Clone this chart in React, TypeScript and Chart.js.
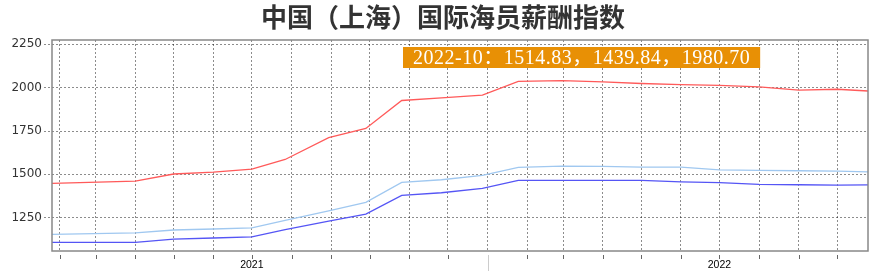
import React, { useEffect, useRef } from "react";
import { Chart, registerables } from "chart.js";

Chart.register(...registerables);

const chartTitle = "中国（上海）国际海员薪酬指数";

const dates = [
  "2021-01-26", "2021-04-01", "2021-05-01", "2021-06-01", "2021-07-01",
  "2021-07-27", "2021-08-30", "2021-09-28", "2021-10-26", "2021-11-26",
  "2021-12-28", "2022-01-25", "2022-02-28", "2022-04-01", "2022-05-01",
  "2022-06-01", "2022-07-01", "2022-08-01", "2022-09-01", "2022-10-01",
  "2022-10-25",
];

const seriesLight = [
  1154, 1162, 1179, 1185, 1191, 1235, 1290, 1339, 1454, 1469,
  1494, 1540, 1548, 1546, 1542, 1542, 1526, 1523, 1521, 1519, 1514.83,
];

const seriesDark = [
  1108, 1108, 1127, 1133, 1139, 1181, 1230, 1271, 1379, 1394,
  1419, 1465, 1465, 1465, 1465, 1457, 1452, 1442, 1440, 1438, 1439.84,
];

const seriesRed = [
  1448, 1461, 1502, 1513, 1530, 1586, 1712, 1765, 1926, 1941,
  1957, 2036, 2041, 2033, 2024, 2018, 2013, 2005, 1986, 1991, 1980.7,
];

const seriesColors = ["#a0c8f0", "#5555f5", "#ff5a5a"];

const yTicks = [1250, 1500, 1750, 2000, 2250];
const yMin = 1058;
const yMax = 2275;
const yearLabels = ["2021", "2022"];
const yearBoundary = "2022-01-01";
const tooltipPeriod = "2022-10";

const toDay = (s: string) => Date.parse(s + "T00:00:00Z") / 86400000;

function monthStarts(fromDay: number, toDayNum: number): number[] {
  const out: number[] = [];
  const d0 = new Date(fromDay * 86400000);
  let y = d0.getUTCFullYear();
  let m = d0.getUTCMonth() + 1;
  for (;;) {
    if (m > 11) { m = 0; y += 1; }
    const v = Date.UTC(y, m, 1) / 86400000;
    if (v > toDayNum) break;
    out.push(v);
    m += 1;
  }
  return out;
}

export default function App() {
  const ref = useRef<HTMLCanvasElement | null>(null);

  useEffect(() => {
    document.body.style.margin = "0";
    const canvas = ref.current;
    if (!canvas) return;

    const xDays = dates.map(toDay);
    const xMin = xDays[0];
    const xMax = xDays[xDays.length - 1];
    const mTicks = monthStarts(xMin, xMax);

    const mk = (vals: number[], color: string) => ({
      data: vals.map((v, i) => ({ x: xDays[i], y: v })),
      borderColor: color,
      backgroundColor: color,
      borderWidth: 1.3,
      pointRadius: 0,
      tension: 0,
      fill: false,
    });

    const overlay = {
      id: "overlay",
      afterDraw(chart: any) {
        const ctx = chart.ctx;
        const a = chart.chartArea;
        const xs = chart.scales.x;
        ctx.save();
        // border
        ctx.strokeStyle = "#888";
        ctx.lineWidth = 1.5;
        ctx.setLineDash([]);
        ctx.strokeRect(a.left, a.top, a.right - a.left, a.bottom - a.top);
        // x tick marks
        ctx.strokeStyle = "#666";
        ctx.lineWidth = 1;
        for (const v of mTicks) {
          const px = Math.round(xs.getPixelForValue(v)) + 0.5;
          ctx.beginPath();
          ctx.moveTo(px, a.bottom + 4);
          ctx.lineTo(px, a.bottom + 8);
          ctx.stroke();
        }
        // year boundary
        const bx = Math.round(xs.getPixelForValue(toDay(yearBoundary))) + 0.5;
        ctx.strokeStyle = "#ccc";
        ctx.beginPath();
        ctx.moveTo(bx, a.bottom + 4);
        ctx.lineTo(bx, a.bottom + 20);
        ctx.stroke();
        // title
        ctx.fillStyle = "#333";
        ctx.font = 'bold 26px "Noto Sans CJK SC"';
        ctx.textAlign = "center";
        ctx.textBaseline = "middle";
        ctx.fillText(chartTitle, chart.width / 2 + 3, 17);
        // tooltip box
        const last = dates.length - 1;
        const txt =
          tooltipPeriod + "：" +
          [seriesLight[last], seriesDark[last], seriesRed[last]]
            .map((v) => v.toFixed(2))
            .join("，");
        ctx.font = '20px "Liberation Serif", "Noto Sans CJK SC"';
        (ctx as any).letterSpacing = "0.5px";
        ctx.textAlign = "left";
        ctx.textBaseline = "alphabetic";
        const tw = ctx.measureText(txt).width;
        const bxl = 403;
        const pad = 10;
        ctx.fillStyle = "#e89005";
        ctx.fillRect(bxl, 47, tw + pad * 2, 21);
        ctx.fillStyle = "#fff";
        ctx.fillText(txt, bxl + pad, 63.5);
        (ctx as any).letterSpacing = "0px";
        ctx.restore();
      },
    };

    const chart = new Chart(canvas, {
      type: "line",
      data: {
        datasets: [
          mk(seriesLight, seriesColors[0]),
          mk(seriesDark, seriesColors[1]),
          mk(seriesRed, seriesColors[2]),
        ],
      },
      options: {
        animation: false,
        responsive: false,
        devicePixelRatio: 1,
        layout: { padding: { top: 40, right: 12, left: 0, bottom: 0 } },
        plugins: {
          legend: { display: false },
          tooltip: { enabled: false },
          title: { display: false },
        },
        scales: {
          x: {
            type: "linear",
            min: xMin,
            max: xMax,
            afterBuildTicks: (scale: any) => {
              scale.ticks = mTicks.map((v) => ({ value: v }));
            },
            afterFit: (scale: any) => {
              scale.height = 27;
            },
            border: { display: false, dash: [2, 2] },
            grid: {
              color: "rgba(0,0,0,0.45)",
              drawTicks: false,
              lineWidth: 1,
            },
            ticks: {
              autoSkip: false,
              maxRotation: 0,
              minRotation: 0,
              padding: 8,
              color: "#000",
              font: { family: '"Liberation Sans"', size: 10.5 },
              callback: (value: any) => {
                const d = new Date(Number(value) * 86400000);
                const y = String(d.getUTCFullYear());
                if (d.getUTCMonth() === 6 && yearLabels.includes(y)) return y;
                return "";
              },
            },
          },
          y: {
            type: "linear",
            min: yMin,
            max: yMax,
            afterBuildTicks: (scale: any) => {
              scale.ticks = yTicks.map((v) => ({ value: v }));
            },
            afterFit: (scale: any) => {
              scale.width = 52;
            },
            border: { display: false, dash: [2, 2] },
            grid: {
              color: "rgba(0,0,0,0.45)",
              tickBorderDash: [2, 2],
              tickLength: 8,
              lineWidth: 1,
            },
            ticks: {
              padding: 2,
              color: "#333",
              font: { family: '"DejaVu Sans"', size: 12 },
              callback: (value: any) => String(value),
            },
          },
        },
      },
      plugins: [overlay],
    } as any);

    return () => chart.destroy();
  }, []);

  return (
    <canvas
      ref={ref}
      width={880}
      height={278}
      style={{ display: "block", width: 880, height: 278 }}
    />
  );
}
